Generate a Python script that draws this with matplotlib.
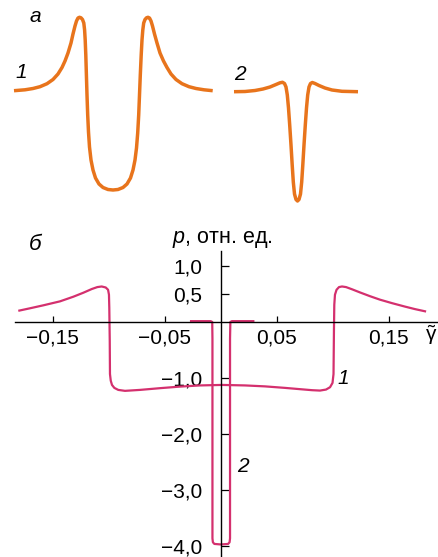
import matplotlib
matplotlib.use('Agg')
from matplotlib import pyplot as plt

plt.rcParams['font.family'] = ['Liberation Sans', 'DejaVu Sans']
plt.rcParams['mathtext.fontset'] = 'custom'
plt.rcParams['mathtext.rm'] = 'Liberation Sans'
plt.rcParams['mathtext.it'] = 'Liberation Sans:italic'

ORANGE = '#E8741C'
PINK = '#D4306E'

# --- panel a, curve 1 (arbitrary units, baseline = 0)
a1_x = [-99.5, -88.5, -80.5, -73.5, -66.5, -60.5, -55.5, -51.5, -48.5, -45.5, -42.5, -40.5,
        -38.5, -37, -35.5, -34, -32.5, -31, -29.7, -28.9, -28.3, -27.7, -27.1, -26.5, -25.8,
        -25, -24, -22.5, -20.5, -18, -14.5, -10.5, -5.5, -0.5,
        4.5, 9.5, 13.5, 17, 19.5, 21.5, 23, 24.2, 25.2, 26, 26.8, 27.7, 28.5, 29.3, 30.2,
        31.5, 33, 34.5, 36, 37.5, 39, 41, 43.5, 46.5, 50, 53.5, 57.5, 62.5, 68.5, 75.5,
        82.5, 90.5, 99.2]
a1_y = [0, 0.9, 2.2, 4, 7, 11.2, 16.7, 23.2, 29.7, 37.7, 47.7, 56.7,
        64.7, 69.7, 72.7, 73.4, 72.9, 71.2, 67.7, 60.7, 50.7, 35.7, 15.7, -4.3, -24.3,
        -41.3, -56.3, -69.3, -79.3, -87.3, -93.3, -96.8, -98.8, -99.3,
        -98.8, -96.8, -93.3, -87.3, -79.3, -69.3, -57.3, -42.3, -24.3, -4.3, 15.7, 35.7,
        50.7, 60.7, 67.7, 71.2, 72.9, 73.4, 72.7, 69.7, 64.7, 56.7, 47.7, 37.7, 29.7,
        23.2, 16.7, 11.2, 7, 4, 2.2, 0.9, 0]

# --- panel a, curve 2
a2_x = [-63, -52, -42, -34, -27, -21, -17, -14.5, -12.5, -11, -9.7, -8.5, -7.3, -6, -4.8,
        -3.7, -2.5, -1, 0.5, 2, 3.5, 4.7, 5.8, 7, 8.3, 9.5, 10.7, 12, 13.5, 15.3, 18, 22,
        28, 35, 45, 61]
a2_y = [0, 0.2, 1.2, 2.7, 4.7, 7.2, 8.9, 9.4, 8.2, 4.7, -3.3, -16.3, -33.3, -53.3, -73.3,
        -90.3, -102.3, -107.8, -109.3, -107.8, -102.3, -90.3, -73.3, -53.3, -33.3, -16.3,
        -3.3, 4.7, 8.2, 9.2, 8.2, 6.2, 3.7, 1.7, 0.4, 0]

# --- panel б, curve 1: p(gamma)
b1_g = [-0.1796, -0.1701, -0.1582, -0.1433, -0.1314, -0.1225, -0.1150, -0.1100, -0.1061,
        -0.1025, -0.1004, -0.0996, -0.0993, -0.0989, -0.0987, -0.0980, -0.0969, -0.0948,
        -0.0913, -0.0853, -0.0719, -0.0540, -0.0362, -0.0183, 0.0013, 0.0219, 0.0397,
        0.0576, 0.0710, 0.0817, 0.0888, 0.0942, 0.0978, 0.1000, 0.1009, 0.1013, 0.1016,
        0.1022, 0.1036, 0.1058, 0.1085, 0.1121, 0.1174, 0.1246, 0.1335, 0.1424, 0.1531,
        0.1647, 0.1737, 0.1826]
b1_p = [0.204, 0.245, 0.298, 0.369, 0.452, 0.523, 0.589, 0.624, 0.635,
        0.617, 0.576, 0.488, 0.252, -0.340, -0.931, -1.050, -1.126, -1.179,
        -1.215, -1.232, -1.215, -1.184, -1.156, -1.135, -1.126, -1.135, -1.152,
        -1.179, -1.202, -1.220, -1.227, -1.209, -1.167, -1.090, -0.931, -0.133, 0.310,
        0.488, 0.576, 0.624, 0.635, 0.624, 0.585, 0.528, 0.461, 0.399, 0.337,
        0.275, 0.230, 0.191]

# --- panel б, curve 2
b2_g = [-0.0263, -0.0088, -0.0074, -0.0072, -0.0072, -0.0068, -0.0055, 0.0005, 0.0068,
        0.0081, 0.0085, 0.0085, 0.0088, 0.0102, 0.0293]
b2_p = [0.015, 0.015, 0.0, -0.3, -3.87, -3.94, -3.97, -3.98, -3.97,
        -3.94, -3.87, -0.3, 0.0, 0.015, 0.015]

xtick_vals = [-0.15, -0.05, 0.05, 0.15]
xtick_labels = ['\u22120,15', '\u22120,05', '0,05', '0,15']
ytick_vals = [1.0, 0.5, -1.0, -2.0, -3.0, -4.0]
ytick_labels = ['1,0', '0,5', '\u22121,0', '\u22122,0', '\u22123,0', '\u22124,0']

W, H = 438, 557
fig = plt.figure(figsize=(W / 100, H / 100), dpi=100)

# top panel: two schematic curves without axes
axa1 = fig.add_axes([0, (H - 215) / H, 220 / W, 215 / H])
axa1.plot(a1_x, a1_y, color=ORANGE, lw=2.5, solid_capstyle='butt', solid_joinstyle='round')
axa1.set_xlim(-113.5, 106.5)
axa1.set_ylim(-124.3, 90.7)
axa1.axis('off')

axa2 = fig.add_axes([220 / W, (H - 215) / H, 218 / W, 215 / H])
axa2.plot(a2_x, a2_y, color=ORANGE, lw=2.5, solid_capstyle='butt', solid_joinstyle='round')
axa2.set_xlim(-77, 141)
axa2.set_ylim(-123.3, 91.7)
axa2.axis('off')

# bottom panel
ax = fig.add_axes([15 / W, 0, 422 / W, 306.3 / H])
ax.plot(b1_g, b1_p, color=PINK, lw=1.6, solid_joinstyle='round')
ax.plot(b2_g, b2_p, color=PINK, lw=1.6, solid_joinstyle='round')
ax.set_xlim(-0.1835, 0.1933)
ax.set_ylim(-4.204, 1.275)
for s in ['top', 'right']:
    ax.spines[s].set_visible(False)
ax.spines['left'].set_position(('data', 0))
ax.spines['bottom'].set_position(('data', 0))
for s in ['left', 'bottom']:
    ax.spines[s].set_linewidth(1.0)
ax.set_xticks(xtick_vals)
ax.set_xticklabels(xtick_labels)
ax.set_yticks(ytick_vals)
ax.set_yticklabels(ytick_labels)
ax.tick_params(axis='x', direction='in', length=4.3, width=0.9, pad=5.0, labelsize=15)
ax.tick_params(axis='y', direction='in', length=6, width=0.9, pad=13, labelsize=15)
ax.patch.set_visible(False)

# texts
fig.text(35 / W, 1 - 17 / H, '\u0430', fontsize=15, style='italic', ha='center', va='center')
fig.text(21 / W, 1 - 73 / H, '1', fontsize=15, style='italic', ha='center', va='center')
fig.text(240 / W, 1 - 74 / H, '2', fontsize=15, style='italic', ha='center', va='center')
fig.text(35 / W, 1 - 244 / H, '\u0431', fontsize=16, style='italic', ha='center', va='center')
fig.text(172 / W, 1 - 240 / H, r'$p$, отн. ед.', fontsize=15.5, ha='left', va='center')
fig.text(431 / W, 1 - 335 / H, r'$\tilde{\mathrm{\gamma}}$', fontsize=15, ha='center', va='center')
fig.text(343 / W, 1 - 378 / H, '1', fontsize=15, style='italic', ha='center', va='center')
fig.text(243 / W, 1 - 466 / H, '2', fontsize=15, style='italic', ha='center', va='center')

plt.savefig('out.png', dpi=100)
